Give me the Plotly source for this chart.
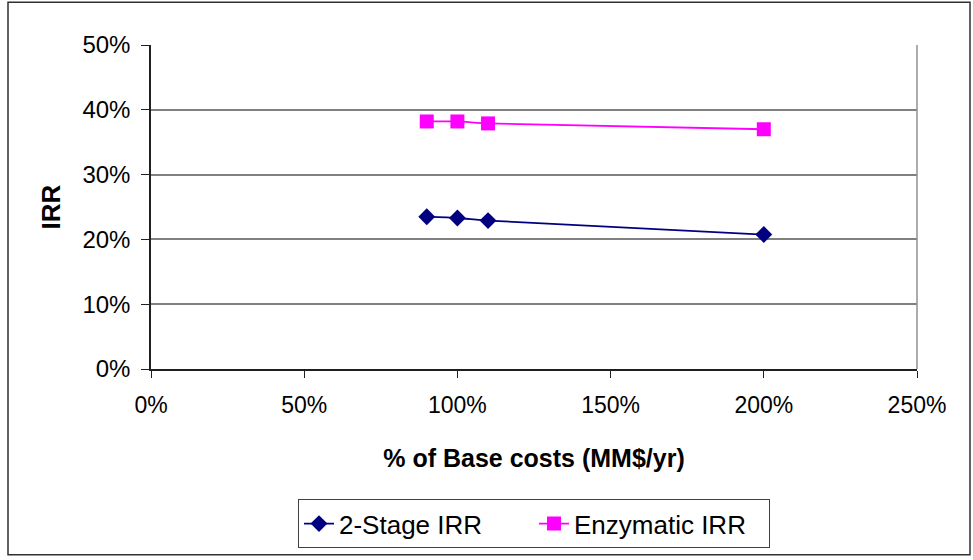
import plotly.graph_objects as go

x_vals = [0.9, 1.0, 1.1, 2.0]
two_stage_irr = [0.235, 0.233, 0.229, 0.2075]
enzymatic_irr = [0.382, 0.382, 0.379, 0.370]
series_names = ["2-Stage IRR", "Enzymatic IRR"]
x_title = "% of Base costs (MM$/yr)"
y_title = "IRR"

W, H = 973, 560
L, R, T, B = 151, 917, 45, 371

fig = go.Figure()
fig.add_trace(go.Scatter(
    x=x_vals, y=two_stage_irr, name=series_names[0], mode="lines+markers",
    line=dict(color="#000080", width=1.8, shape="spline", smoothing=0.6),
    marker=dict(symbol="diamond", size=13, color="#000080"),
))
fig.add_trace(go.Scatter(
    x=x_vals, y=enzymatic_irr, name=series_names[1], mode="lines+markers",
    line=dict(color="#FF00FF", width=1.8, shape="spline", smoothing=0.6),
    marker=dict(symbol="square", size=14, color="#FF00FF"),
))

font = "Liberation Sans, Arial, sans-serif"
fig.update_layout(
    width=W, height=H,
    margin=dict(l=L, r=W - R, t=T, b=H - B),
    paper_bgcolor="white", plot_bgcolor="white",
    font=dict(family=font, size=24, color="black"),
    showlegend=True,
    legend=dict(
        orientation="h", x=0.5, xanchor="center", y=(B - 502) / (B - T), yanchor="top",
        bordercolor="#404040", borderwidth=1, font=dict(size=26, family=font),
        tracegroupgap=0, entrywidth=190, entrywidthmode="pixels",
    ),
    xaxis=dict(
        range=[0, 2.5], tickvals=[0, 0.5, 1.0, 1.5, 2.0, 2.5], tickformat=".0%",
        showgrid=False, zeroline=False, showline=True, linecolor="#202020", linewidth=1.5,
        ticks="outside", ticklen=7, tickcolor="#202020", ticklabelstandoff=8,
        tickfont=dict(size=23),
        title=dict(text="<b>" + x_title + "</b>", standoff=32, font=dict(size=25)),
    ),
    yaxis=dict(
        range=[0, 0.5], tickvals=[0, 0.1, 0.2, 0.3, 0.4, 0.5], tickformat=".0%",
        showgrid=True, gridcolor="#808080", gridwidth=1.5, zeroline=False,
        showline=True, linecolor="#202020", linewidth=1.5,
        ticks="outside", ticklen=8, tickcolor="#202020", ticklabelstandoff=6,
        tickfont=dict(size=24),
        title=dict(text="<b>" + y_title + "</b>", standoff=14, font=dict(size=26)),
    ),
    shapes=[
        dict(type="line", xref="paper", yref="paper", x0=1, x1=1, y0=0, y1=1,
             line=dict(color="#909090", width=1.5)),
        dict(type="rect", xref="paper", yref="paper",
             x0=(8 - L) / (R - L), x1=(970 - L) / (R - L),
             y0=(B - 558) / (B - T), y1=(B - 2) / (B - T),
             line=dict(color="#303030", width=1.5)),
    ],
)

fig.write_html("out.html")
